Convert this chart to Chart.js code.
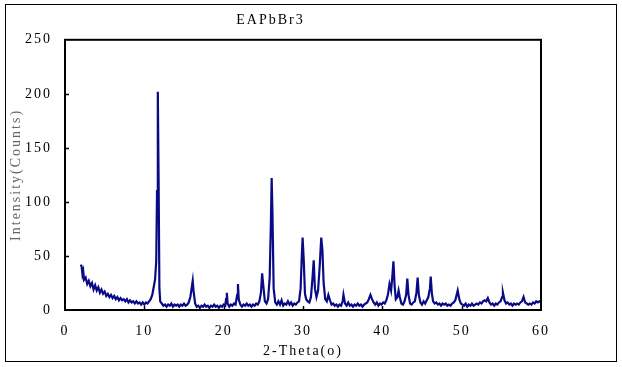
<!DOCTYPE html>
<html>
<head>
<meta charset="utf-8">
<script src="https://cdn.jsdelivr.net/npm/chart.js@4.4.1/dist/chart.umd.min.js"></script>
<style>
  html, body { margin: 0; padding: 0; background: #fff; }
  #wrap { width: 622px; height: 367px; }
</style>
</head>
<body>
<div id="wrap"><canvas id="xrd"></canvas></div>
<script>
// 2-theta (degrees) and intensity (counts)
const twoTheta = [
  2.0, 2.1, 2.2, 2.3, 2.4, 2.6, 2.8, 3.0, 3.2, 3.4, 3.6, 3.8, 4.0, 4.2, 4.4, 4.6, 4.8, 5.0, 5.2, 5.4,
  5.6, 5.8, 6.0, 6.2, 6.4, 6.6, 6.8, 7.0, 7.2, 7.4, 7.6, 7.8, 8.0, 8.2, 8.4, 8.6, 8.8, 9.0, 9.2, 9.4,
  9.6, 9.8, 10.0, 10.2, 10.4, 10.6, 10.8, 11.0, 11.2, 11.35, 11.5, 11.6, 11.7, 11.8, 11.9, 12.0, 12.2, 12.4, 12.6, 12.8,
  13.0, 13.2, 13.4, 13.6, 13.8, 14.0, 14.2, 14.4, 14.6, 14.8, 15.0, 15.2, 15.4, 15.6, 15.8, 16.0, 16.1, 16.2, 16.4, 16.6,
  16.8, 17.0, 17.2, 17.4, 17.6, 17.8, 18.0, 18.2, 18.4, 18.6, 18.8, 19.0, 19.2, 19.4, 19.6, 19.8, 20.0, 20.2, 20.3, 20.4,
  20.5, 20.7, 20.9, 21.1, 21.3, 21.5, 21.7, 21.8, 21.9, 22.1, 22.3, 22.5, 22.7, 22.9, 23.1, 23.3, 23.5, 23.7, 23.9, 24.1,
  24.3, 24.5, 24.7, 24.85, 25.0, 25.2, 25.4, 25.6, 25.8, 25.95, 26.05, 26.15, 26.3, 26.5, 26.7, 26.9, 27.1, 27.3, 27.5, 27.7,
  27.9, 28.1, 28.3, 28.5, 28.7, 28.9, 29.1, 29.3, 29.5, 29.7, 29.85, 29.95, 30.1, 30.25, 30.4, 30.6, 30.8, 31.0, 31.2, 31.35,
  31.5, 31.7, 31.9, 32.1, 32.3, 32.45, 32.6, 32.8, 33.0, 33.2, 33.4, 33.6, 33.8, 34.0, 34.2, 34.4, 34.6, 34.8, 35.0, 35.1,
  35.3, 35.5, 35.7, 35.9, 36.1, 36.3, 36.5, 36.7, 36.9, 37.1, 37.3, 37.5, 37.7, 37.9, 38.1, 38.3, 38.5, 38.7, 38.9, 39.1,
  39.3, 39.5, 39.7, 39.9, 40.1, 40.3, 40.5, 40.7, 40.9, 41.1, 41.25, 41.4, 41.55, 41.7, 41.9, 42.05, 42.2, 42.4, 42.6, 42.8,
  43.0, 43.15, 43.3, 43.5, 43.7, 43.9, 44.1, 44.3, 44.45, 44.6, 44.8, 45.0, 45.2, 45.4, 45.6, 45.8, 46.0, 46.1, 46.25, 46.4,
  46.6, 46.8, 47.0, 47.2, 47.4, 47.6, 47.8, 48.0, 48.2, 48.4, 48.6, 48.8, 49.0, 49.2, 49.4, 49.5, 49.7, 49.9, 50.1, 50.3,
  50.5, 50.7, 50.9, 51.1, 51.3, 51.5, 51.7, 51.9, 52.1, 52.3, 52.5, 52.7, 52.9, 53.1, 53.3, 53.5, 53.7, 53.9, 54.1, 54.3,
  54.5, 54.7, 54.9, 55.1, 55.2, 55.4, 55.6, 55.8, 56.0, 56.2, 56.4, 56.6, 56.8, 57.0, 57.2, 57.4, 57.6, 57.8, 58.0, 58.2,
  58.4, 58.6, 58.8, 59.0, 59.2, 59.4, 59.6, 59.8, 60.0
];
const counts = [
  42, 40, 33, 36, 28, 30, 24, 27, 22, 25, 19, 23, 18, 21, 16, 19, 15, 17, 13, 15,
  12, 14, 11, 13, 10, 12, 9, 11, 9, 10, 8, 10, 7, 9, 7, 8, 6, 8, 6, 7,
  5, 7, 5, 7, 6, 8, 10, 14, 22, 28, 45, 110, 202, 120, 20, 8, 6, 4, 5, 3,
  5, 4, 6, 3, 5, 4, 5, 3, 5, 4, 6, 4, 5, 7, 12, 22, 27, 18, 6, 3,
  4, 2, 4, 3, 5, 3, 4, 2, 4, 3, 5, 3, 4, 2, 4, 3, 5, 4, 10, 16,
  6, 3, 5, 4, 6, 5, 14, 24, 10, 5, 3, 5, 4, 6, 4, 5, 3, 5, 4, 6,
  5, 8, 16, 34, 22, 8, 6, 10, 30, 80, 122, 90, 20, 7, 5, 8, 5, 9, 4, 6,
  5, 8, 5, 7, 4, 6, 5, 7, 8, 20, 50, 67, 45, 15, 10, 8, 7, 12, 30, 46,
  20, 12, 18, 40, 67, 55, 25, 10, 8, 14, 9, 5, 6, 4, 5, 3, 5, 4, 8, 14,
  6, 4, 7, 4, 5, 3, 5, 4, 6, 4, 5, 3, 5, 6, 7, 10, 14, 10, 7, 5,
  7, 4, 6, 5, 7, 6, 9, 14, 24, 18, 30, 45, 22, 10, 12, 18, 12, 6, 5, 8,
  14, 29, 14, 6, 5, 7, 8, 16, 30, 14, 7, 5, 8, 6, 9, 12, 20, 31, 15, 8,
  6, 7, 5, 6, 4, 6, 5, 6, 4, 5, 4, 6, 7, 9, 15, 18, 10, 6, 5, 4,
  6, 3, 5, 4, 6, 4, 5, 6, 5, 7, 6, 8, 9, 8, 11, 7, 5, 6, 4, 6,
  5, 7, 8, 12, 16, 9, 6, 7, 5, 6, 4, 6, 5, 6, 5, 7, 8, 12, 7, 6,
  5, 6, 5, 7, 6, 8, 7, 8, 7
];
const xTicks = [0, 10, 20, 30, 40, 50, 60];
const yTicks = [0, 50, 100, 150, 200, 250];

const FONT = 'Liberation Serif';

const framePlugin = {
  id: 'frame',
  beforeInit(chart) {
    chart.ctx.letterSpacing = '2px';
  },
  beforeDraw(chart) {
    const ctx = chart.ctx;
    ctx.save();
    ctx.fillStyle = '#fff';
    ctx.fillRect(0, 0, chart.width, chart.height);
    ctx.restore();
    ctx.letterSpacing = '2px';
  },
  afterDraw(chart) {
    const { ctx, chartArea: a, scales } = chart;
    ctx.save();
    // outer border
    ctx.strokeStyle = '#000';
    ctx.lineWidth = 1;
    ctx.strokeRect(5.5, 4.5, 611, 357);
    // inward tick marks
    ctx.lineWidth = 1.5;
    ctx.beginPath();
    xTicks.slice(1, -1).forEach(v => {
      const px = Math.round(scales.x.getPixelForValue(v)) + 0.5;
      ctx.moveTo(px, a.bottom);
      ctx.lineTo(px, a.bottom - 4);
    });
    yTicks.slice(1, -1).forEach(v => {
      const py = Math.round(scales.y.getPixelForValue(v)) + 0.5;
      ctx.moveTo(a.left, py);
      ctx.lineTo(a.left + 4, py);
    });
    ctx.stroke();
    // plot frame
    ctx.lineWidth = 2;
    ctx.strokeRect(a.left, a.top, a.right - a.left, a.bottom - a.top);
    ctx.restore();
  }
};

new Chart(document.getElementById('xrd'), {
  type: 'line',
  data: {
    datasets: [{
      data: twoTheta.map((t, i) => ({ x: t, y: counts[i] })),
      borderColor: '#0a0a86',
      borderWidth: 2.2,
      pointRadius: 0,
      tension: 0,
      fill: false
    }]
  },
  options: {
    responsive: true,
    maintainAspectRatio: false,
    animation: false,
    layout: { padding: { left: 0, right: 81, top: 0, bottom: 0 } },
    plugins: {
      legend: { display: false },
      tooltip: { enabled: false },
      title: {
        display: true,
        text: 'EAPbBr3',
        color: '#000',
        font: { family: FONT, size: 14, weight: 'normal' },
        padding: { top: 12, bottom: 11 }
      }
    },
    scales: {
      x: {
        type: 'linear',
        min: 0,
        max: 60,
        afterBuildTicks: s => { s.ticks = xTicks.map(v => ({ value: v })); },
        afterFit: s => { s.height = 57; },
        grid: { display: false, drawTicks: false },
        border: { display: false },
        ticks: { color: '#000', padding: 13, maxRotation: 0, font: { family: FONT, size: 14 } },
        title: {
          display: true,
          text: '2-Theta(o)',
          color: '#000',
          font: { family: FONT, size: 14 },
          padding: { top: 0, bottom: 7 }
        }
      },
      y: {
        min: 0,
        max: 250,
        afterBuildTicks: s => { s.ticks = yTicks.map(v => ({ value: v })); },
        afterFit: s => { s.width = 65; },
        grid: { display: false, drawTicks: false },
        border: { display: false },
        ticks: { color: '#000', padding: 13, font: { family: FONT, size: 14 } },
        title: {
          display: true,
          text: 'Intensity(Counts)',
          color: '#666',
          font: { family: FONT, size: 14 },
          padding: { top: 8, bottom: 0 }
        }
      }
    }
  },
  plugins: [framePlugin]
});
</script>
</body>
</html>
